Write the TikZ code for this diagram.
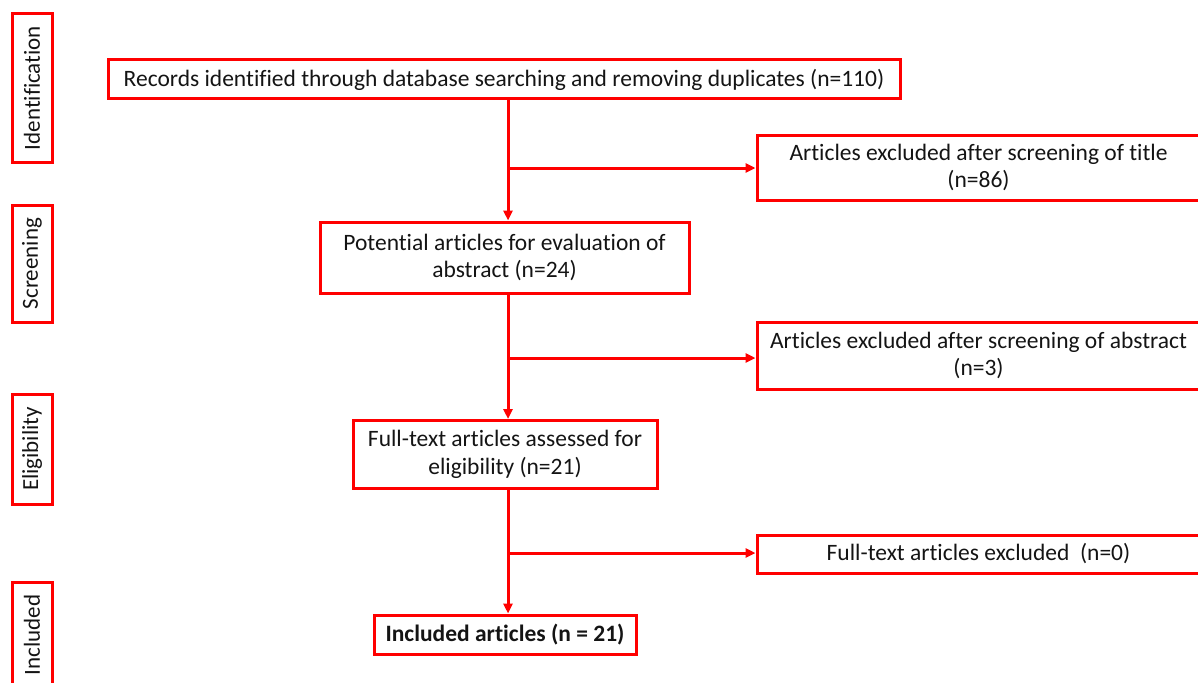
\documentclass[tikz,border=0pt]{standalone}
\usepackage{fontspec}
\setmainfont{Carlito}[Ligatures=NoCommon]
\usetikzlibrary{arrows.meta}
\definecolor{boxred}{RGB}{255,0,0}
\definecolor{txt}{RGB}{20,20,20}
\tikzset{
  box/.style={draw=boxred, line width=3pt, inner sep=0pt, align=center, text=txt,
    font=\fontsize{23.5}{27.5}\selectfont},
  side/.style={draw=boxred, line width=3pt, inner sep=0pt, rotate=90, text=txt,
    font=\fontsize{23}{26}\selectfont},
  flow/.style={draw=boxred, line width=3pt, -{Triangle[length=10pt,width=9pt]}}
}
\begin{document}
\begin{tikzpicture}[x=1pt,y=-1pt]
\useasboundingbox (0,0) rectangle (1198,682);
\clip (0,0) rectangle (1198,682);
% side labels (rotated: minimum width is along the vertical)
\node[side, minimum width=149pt, minimum height=40pt] (sid) at (32,88) {Identification};
\node[side, minimum width=117pt, minimum height=40pt] (sscr) at (32,263.5) {Screening};
\node[side, minimum width=110pt, minimum height=40pt] (selig) at (32,449) {Eligibility};
\node[side, minimum width=106pt, minimum height=40pt] (sinc) at (32,635) {Included};
% main boxes
\node[box, minimum width=792pt, minimum height=39pt] (top) at (504,79.5)
  {Records identified through database searching and removing duplicates (n=110)};
\node[box, minimum width=369pt, minimum height=71pt] (pot) at (504.5,257.5)
  {Potential articles for evaluation of\\abstract (n=24)};
\node[box, minimum width=304pt, minimum height=68pt] (full) at (505,454.5)
  {Full-text articles assessed for\\eligibility (n=21)};
\node[box, minimum width=262pt, minimum height=39pt, font=\fontsize{23.5}{27.5}\selectfont\bfseries] (inc) at (505,634.5)
  {Included articles (n = 21)};
% exclusion boxes (right edge beyond the page)
\node[box, minimum width=443pt, minimum height=65pt] (ex1) at (978.5,167.5)
  {Articles excluded after screening of title\\(n=86)};
\node[box, minimum width=443pt, minimum height=67pt] (ex2) at (978.5,355.5)
  {Articles excluded after screening of abstract\\(n=3)};
\node[box, minimum width=443pt, minimum height=38pt] (ex3) at (978.5,554)
  {Full-text articles excluded~~(n=0)};
% junctions
\coordinate (j1) at (508,168);
\coordinate (j2) at (508,358);
\coordinate (j3) at (508,553);
% connectors
\draw[flow] (top.south -| j1) -- (pot.north -| j1);
\draw[flow] (j1) -- (ex1.west |- j1);
\draw[flow] (pot.south -| j2) -- (full.north -| j2);
\draw[flow] (j2) -- (ex2.west |- j2);
\draw[flow] (full.south -| j3) -- (inc.north -| j3);
\draw[flow] (j3) -- (ex3.west |- j3);
\end{tikzpicture}
\end{document}
